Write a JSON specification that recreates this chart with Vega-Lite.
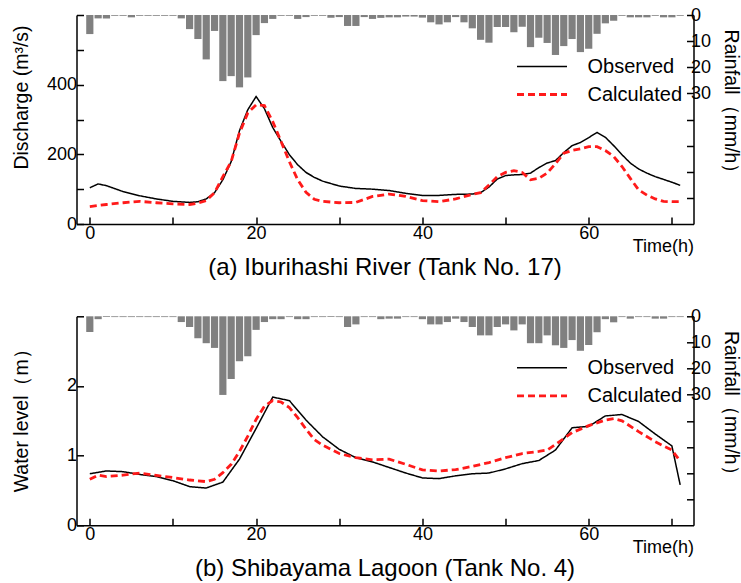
{
  "$schema": "https://vega.github.io/schema/vega-lite/v6.json",
  "padding": {"left": 10.5, "top": 6, "right": 2.5, "bottom": 0},
  "background": "white",
  "config": {
    "view": {"stroke": null},
    "font": "Liberation Sans",
    "axis": {
      "grid": false,
      "domainColor": "#000000",
      "domainWidth": 1.5,
      "tickColor": "#000000",
      "tickWidth": 1.5,
      "tickSize": -7,
      "labelColor": "#000000",
      "titleColor": "#000000",
      "labelFont": "Liberation Sans",
      "labelFontSize": 18,
      "titleFont": "Liberation Sans",
      "titleFontSize": 19.5,
      "titleFontWeight": "normal"
    },
    "legend": {"labelFont": "Liberation Sans", "labelFontSize": 20, "labelColor": "#000000"}
  },
  "datasets": {
    "rainA": [
      {"h":0,"rain":7.3},{"h":1,"rain":1.3},{"h":2,"rain":1.3},{"h":3,"rain":0.3},{"h":4,"rain":0.3},{"h":5,"rain":0.9},{"h":6,"rain":0.3},{"h":7,"rain":0.3},{"h":8,"rain":0.3},{"h":9,"rain":0.3},
      {"h":10,"rain":0.3},{"h":11,"rain":1.3},{"h":12,"rain":5.4},{"h":13,"rain":9.2},{"h":14,"rain":17},{"h":15,"rain":6.1},{"h":16,"rain":25.3},{"h":17,"rain":23.4},{"h":18,"rain":27.7},{"h":19,"rain":23.9},
      {"h":20,"rain":7.7},{"h":21,"rain":3.1},{"h":22,"rain":1.5},{"h":23,"rain":0.3},{"h":24,"rain":0.3},{"h":25,"rain":1.5},{"h":26,"rain":0.8},{"h":27,"rain":0.3},{"h":28,"rain":0.3},{"h":29,"rain":1.1},
      {"h":30,"rain":0.8},{"h":31,"rain":4.2},{"h":32,"rain":4.2},{"h":33,"rain":0.8},{"h":34,"rain":1.5},{"h":35,"rain":1.1},{"h":36,"rain":0.9},{"h":37,"rain":0.9},{"h":38,"rain":0.6},{"h":39,"rain":0.6},
      {"h":40,"rain":1.0},{"h":41,"rain":2.8},{"h":42,"rain":3.6},{"h":43,"rain":2.8},{"h":44,"rain":0.8},{"h":45,"rain":2.8},{"h":46,"rain":5.1},{"h":47,"rain":9.5},{"h":48,"rain":10.6},{"h":49,"rain":4.6},
      {"h":50,"rain":4.6},{"h":51,"rain":6.6},{"h":52,"rain":4.5},{"h":53,"rain":12.3},{"h":54,"rain":8.7},{"h":55,"rain":10.7},{"h":56,"rain":15.3},{"h":57,"rain":11.9},{"h":58,"rain":9.2},{"h":59,"rain":14.2},
      {"h":60,"rain":12.9},{"h":61,"rain":7.2},{"h":62,"rain":3.2},{"h":63,"rain":2.2},{"h":64,"rain":0.3},{"h":65,"rain":0.9},{"h":66,"rain":0.9},{"h":67,"rain":0.9},{"h":68,"rain":0.3},{"h":69,"rain":0.9},
      {"h":70,"rain":0.9},{"h":71,"rain":0.3}
    ],
    "rainB": [
      {"h":0,"rain":6.0},{"h":1,"rain":1.1},{"h":2,"rain":0.3},{"h":3,"rain":0.3},{"h":4,"rain":0.3},{"h":5,"rain":0.3},{"h":6,"rain":0.3},{"h":7,"rain":0.3},{"h":8,"rain":0.3},{"h":9,"rain":0.3},
      {"h":10,"rain":0.3},{"h":11,"rain":2.2},{"h":12,"rain":4.1},{"h":13,"rain":8.4},{"h":14,"rain":10.3},{"h":15,"rain":12.1},{"h":16,"rain":30.1},{"h":17,"rain":24.0},{"h":18,"rain":17.2},{"h":19,"rain":15.3},
      {"h":20,"rain":5.2},{"h":21,"rain":2.2},{"h":22,"rain":1.1},{"h":23,"rain":1.1},{"h":24,"rain":0.3},{"h":25,"rain":1.1},{"h":26,"rain":1.1},{"h":27,"rain":0.3},{"h":28,"rain":0.3},{"h":29,"rain":0.3},
      {"h":30,"rain":0.3},{"h":31,"rain":4.1},{"h":32,"rain":3.1},{"h":33,"rain":0.3},{"h":34,"rain":0.3},{"h":35,"rain":1.1},{"h":36,"rain":0.9},{"h":37,"rain":0.9},{"h":38,"rain":0.3},{"h":39,"rain":0.3},
      {"h":40,"rain":1.1},{"h":41,"rain":3.1},{"h":42,"rain":3.1},{"h":43,"rain":2.2},{"h":44,"rain":0.9},{"h":45,"rain":2.2},{"h":46,"rain":4.1},{"h":47,"rain":7.3},{"h":48,"rain":7.3},{"h":49,"rain":4.1},
      {"h":50,"rain":3.1},{"h":51,"rain":5.4},{"h":52,"rain":3.1},{"h":53,"rain":10.3},{"h":54,"rain":10.3},{"h":55,"rain":7.3},{"h":56,"rain":11.1},{"h":57,"rain":12.1},{"h":58,"rain":9.1},{"h":59,"rain":13.2},
      {"h":60,"rain":11.0},{"h":61,"rain":6.1},{"h":62,"rain":1.1},{"h":63,"rain":2.3},{"h":64,"rain":0.3},{"h":65,"rain":0.9},{"h":66,"rain":0.3},{"h":67,"rain":0.3},{"h":68,"rain":0.9},{"h":69,"rain":0.9},
      {"h":70,"rain":0.3},{"h":71,"rain":0.3}
    ],
    "flowA": [
      {"series":"Observed","h":0,"v":104},{"series":"Observed","h":1,"v":115},{"series":"Observed","h":2,"v":110},{"series":"Observed","h":4,"v":93},{"series":"Observed","h":6,"v":81},{"series":"Observed","h":8,"v":72},{"series":"Observed","h":10,"v":65},{"series":"Observed","h":12,"v":62},{"series":"Observed","h":13,"v":64},{"series":"Observed","h":14,"v":72},
      {"series":"Observed","h":15,"v":90},{"series":"Observed","h":16,"v":127},{"series":"Observed","h":17,"v":179},{"series":"Observed","h":18,"v":268},{"series":"Observed","h":19,"v":328},{"series":"Observed","h":20,"v":366},{"series":"Observed","h":21,"v":331},{"series":"Observed","h":22,"v":277},{"series":"Observed","h":23,"v":237},{"series":"Observed","h":24,"v":199},
      {"series":"Observed","h":25,"v":170},{"series":"Observed","h":26,"v":148},{"series":"Observed","h":27,"v":134},{"series":"Observed","h":28,"v":123},{"series":"Observed","h":30,"v":109},{"series":"Observed","h":32,"v":102},{"series":"Observed","h":34,"v":100},{"series":"Observed","h":36,"v":96},{"series":"Observed","h":38,"v":88},{"series":"Observed","h":40,"v":82},
      {"series":"Observed","h":42,"v":82},{"series":"Observed","h":44,"v":85},{"series":"Observed","h":46,"v":86},{"series":"Observed","h":47,"v":90},{"series":"Observed","h":48,"v":106},{"series":"Observed","h":49,"v":129},{"series":"Observed","h":50,"v":139},{"series":"Observed","h":51,"v":141},{"series":"Observed","h":52,"v":142},{"series":"Observed","h":53,"v":146},
      {"series":"Observed","h":54,"v":162},{"series":"Observed","h":55,"v":175},{"series":"Observed","h":56,"v":182},{"series":"Observed","h":57,"v":205},{"series":"Observed","h":58,"v":225},{"series":"Observed","h":59,"v":234},{"series":"Observed","h":60,"v":248},{"series":"Observed","h":61,"v":263},{"series":"Observed","h":62,"v":249},{"series":"Observed","h":63,"v":225},
      {"series":"Observed","h":64,"v":199},{"series":"Observed","h":65,"v":175},{"series":"Observed","h":66,"v":158},{"series":"Observed","h":67,"v":146},{"series":"Observed","h":68,"v":136},{"series":"Observed","h":69,"v":128},{"series":"Observed","h":70,"v":120},{"series":"Observed","h":71,"v":111},
      {"series":"Calculated","h":0,"v":50},{"series":"Calculated","h":2,"v":56},{"series":"Calculated","h":4,"v":61},{"series":"Calculated","h":6,"v":65},{"series":"Calculated","h":8,"v":61},{"series":"Calculated","h":10,"v":58},{"series":"Calculated","h":12,"v":56},{"series":"Calculated","h":13,"v":60},{"series":"Calculated","h":14,"v":67},{"series":"Calculated","h":15,"v":90},
      {"series":"Calculated","h":16,"v":136},{"series":"Calculated","h":17,"v":179},{"series":"Calculated","h":18,"v":261},{"series":"Calculated","h":19,"v":319},{"series":"Calculated","h":20,"v":342},{"series":"Calculated","h":21,"v":340},{"series":"Calculated","h":22,"v":294},{"series":"Calculated","h":23,"v":237},{"series":"Calculated","h":24,"v":179},{"series":"Calculated","h":25,"v":127},
      {"series":"Calculated","h":26,"v":91},{"series":"Calculated","h":27,"v":71},{"series":"Calculated","h":28,"v":65},{"series":"Calculated","h":30,"v":61},{"series":"Calculated","h":32,"v":62},{"series":"Calculated","h":34,"v":79},{"series":"Calculated","h":36,"v":86},{"series":"Calculated","h":38,"v":79},{"series":"Calculated","h":40,"v":67},{"series":"Calculated","h":42,"v":64},
      {"series":"Calculated","h":44,"v":72},{"series":"Calculated","h":46,"v":85},{"series":"Calculated","h":47,"v":90},{"series":"Calculated","h":48,"v":112},{"series":"Calculated","h":49,"v":136},{"series":"Calculated","h":50,"v":148},{"series":"Calculated","h":51,"v":153},{"series":"Calculated","h":52,"v":148},{"series":"Calculated","h":53,"v":127},{"series":"Calculated","h":54,"v":131},
      {"series":"Calculated","h":55,"v":146},{"series":"Calculated","h":56,"v":173},{"series":"Calculated","h":57,"v":203},{"series":"Calculated","h":58,"v":211},{"series":"Calculated","h":59,"v":216},{"series":"Calculated","h":60,"v":222},{"series":"Calculated","h":61,"v":222},{"series":"Calculated","h":62,"v":211},{"series":"Calculated","h":63,"v":194},{"series":"Calculated","h":64,"v":165},
      {"series":"Calculated","h":65,"v":131},{"series":"Calculated","h":66,"v":98},{"series":"Calculated","h":67,"v":83},{"series":"Calculated","h":68,"v":72},{"series":"Calculated","h":69,"v":65},{"series":"Calculated","h":70,"v":64},{"series":"Calculated","h":71,"v":64}
    ],
    "levelB": [
      {"series":"Observed","h":0,"v":0.74},{"series":"Observed","h":2,"v":0.78},{"series":"Observed","h":4,"v":0.77},{"series":"Observed","h":6,"v":0.73},{"series":"Observed","h":8,"v":0.70},{"series":"Observed","h":10,"v":0.64},{"series":"Observed","h":12,"v":0.555},{"series":"Observed","h":14,"v":0.535},{"series":"Observed","h":16,"v":0.62},{"series":"Observed","h":18,"v":0.95},
      {"series":"Observed","h":20,"v":1.39},{"series":"Observed","h":22,"v":1.84},{"series":"Observed","h":24,"v":1.79},{"series":"Observed","h":26,"v":1.51},{"series":"Observed","h":28,"v":1.27},{"series":"Observed","h":30,"v":1.09},{"series":"Observed","h":32,"v":0.97},{"series":"Observed","h":34,"v":0.91},{"series":"Observed","h":36,"v":0.83},{"series":"Observed","h":38,"v":0.75},
      {"series":"Observed","h":40,"v":0.68},{"series":"Observed","h":42,"v":0.67},{"series":"Observed","h":44,"v":0.71},{"series":"Observed","h":46,"v":0.74},{"series":"Observed","h":48,"v":0.75},{"series":"Observed","h":50,"v":0.81},{"series":"Observed","h":52,"v":0.885},{"series":"Observed","h":54,"v":0.93},{"series":"Observed","h":56,"v":1.08},{"series":"Observed","h":58,"v":1.40},
      {"series":"Observed","h":60,"v":1.42},{"series":"Observed","h":62,"v":1.57},{"series":"Observed","h":64,"v":1.59},{"series":"Observed","h":66,"v":1.49},{"series":"Observed","h":68,"v":1.31},{"series":"Observed","h":70,"v":1.14},{"series":"Observed","h":71,"v":0.58},
      {"series":"Calculated","h":0,"v":0.66},{"series":"Calculated","h":1,"v":0.72},{"series":"Calculated","h":2,"v":0.70},{"series":"Calculated","h":4,"v":0.72},{"series":"Calculated","h":6,"v":0.75},{"series":"Calculated","h":8,"v":0.715},{"series":"Calculated","h":10,"v":0.685},{"series":"Calculated","h":12,"v":0.65},{"series":"Calculated","h":14,"v":0.627},{"series":"Calculated","h":15,"v":0.66},
      {"series":"Calculated","h":16,"v":0.756},{"series":"Calculated","h":17,"v":0.875},{"series":"Calculated","h":18,"v":1.06},{"series":"Calculated","h":19,"v":1.28},{"series":"Calculated","h":20,"v":1.52},{"series":"Calculated","h":21,"v":1.71},{"series":"Calculated","h":22,"v":1.79},{"series":"Calculated","h":23,"v":1.77},{"series":"Calculated","h":24,"v":1.69},{"series":"Calculated","h":25,"v":1.545},
      {"series":"Calculated","h":26,"v":1.38},{"series":"Calculated","h":27,"v":1.23},{"series":"Calculated","h":28,"v":1.15},{"series":"Calculated","h":30,"v":1.03},{"series":"Calculated","h":32,"v":0.97},{"series":"Calculated","h":34,"v":0.94},{"series":"Calculated","h":36,"v":0.95},{"series":"Calculated","h":38,"v":0.875},{"series":"Calculated","h":40,"v":0.795},{"series":"Calculated","h":42,"v":0.78},
      {"series":"Calculated","h":44,"v":0.80},{"series":"Calculated","h":46,"v":0.845},{"series":"Calculated","h":48,"v":0.90},{"series":"Calculated","h":50,"v":0.97},{"series":"Calculated","h":52,"v":1.03},{"series":"Calculated","h":54,"v":1.06},{"series":"Calculated","h":55,"v":1.08},{"series":"Calculated","h":56,"v":1.16},{"series":"Calculated","h":58,"v":1.33},{"series":"Calculated","h":60,"v":1.43},
      {"series":"Calculated","h":62,"v":1.51},{"series":"Calculated","h":63,"v":1.53},{"series":"Calculated","h":64,"v":1.50},{"series":"Calculated","h":66,"v":1.345},{"series":"Calculated","h":68,"v":1.20},{"series":"Calculated","h":70,"v":1.08},{"series":"Calculated","h":71,"v":0.92}
    ]
  },
  "spacing": 27.3,
  "resolve": {
    "scale": {"color": "independent", "strokeDash": "independent", "strokeWidth": "independent"},
    "legend": {"color": "independent", "strokeDash": "independent", "strokeWidth": "independent"}
  },
  "vconcat": [
    {
      "width": 617,
      "height": 209,
      "title": {"text": "(a) Iburihashi River (Tank No. 17)", "orient": "bottom", "anchor": "middle", "font": "Liberation Sans", "fontSize": 24, "fontWeight": "normal", "color": "#000000", "offset": 0.5},
      "resolve": {"scale": {"y": "independent"}},
      "layer": [
        {
          "data": {"name": "rainA"},
          "mark": {"type": "bar", "color": "#808080", "width": 7.2},
          "encoding": {
            "x": {"field": "h", "type": "quantitative", "scale": {"domain": [-1, 72], "nice": false},
                  "axis": {"values": [0,10,20,30,40,50,60,70], "labelExpr": "datum.value % 20 == 0 ? datum.label : ''", "labelPadding": 7.5, "title": "Time(h)", "titleFontSize": 18, "titleX": 617, "titleY": 22.5, "titleAlign": "right", "titleBaseline": "middle", "titleAngle": 0}},
            "y": {"field": "rain", "type": "quantitative", "scale": {"domain": [0, 80], "reverse": true, "nice": false},
                  "axis": {"orient": "right", "values": [0,10,20,30,40,50,60,70], "labelExpr": "datum.value <= 30 ? datum.label : ''", "labelPadding": 4, "title": "Rainfall（mm/h）", "titleX": 36.5, "titleY": 91, "titleAngle": 90, "titleAlign": "center", "titleBaseline": "middle"}}
          }
        },
        {
          "data": {"name": "flowA"},
          "mark": {"type": "line"},
          "encoding": {
            "x": {"field": "h", "type": "quantitative", "scale": {"domain": [-1, 72], "nice": false},
                  "axis": {"values": [0,10,20,30,40,50,60,70], "labelExpr": "datum.value % 20 == 0 ? datum.label : ''", "labelPadding": 7.5, "title": "Time(h)", "titleFontSize": 18, "titleX": 617, "titleY": 22.5, "titleAlign": "right", "titleBaseline": "middle", "titleAngle": 0}},
            "y": {"field": "v", "type": "quantitative", "scale": {"domain": [0, 600], "nice": false},
                  "axis": {"values": [0,100,200,300,400,500,600], "labelExpr": "datum.value % 200 == 0 && datum.value < 600 ? datum.label : ''", "labelPadding": 7, "title": "Discharge (m³/s)", "titleX": -55.5, "titleY": 82, "titleAngle": -90, "titleAlign": "center", "titleBaseline": "middle"}},
            "color": {"field": "series", "type": "nominal", "scale": {"domain": ["Observed", "Calculated"], "range": ["#000000", "#ff1a1a"]},
                      "legend": {"title": null, "orient": "none", "legendX": 439, "legendY": 37.5, "symbolType": "stroke", "symbolSize": 2500, "clipHeight": 28, "rowPadding": 0, "labelOffset": 19, "padding": 0}},
            "strokeDash": {"field": "series", "type": "nominal", "scale": {"domain": ["Observed", "Calculated"], "range": [[1, 0], [7, 4]]},
                      "legend": {"title": null, "orient": "none", "legendX": 439, "legendY": 37.5, "symbolType": "stroke", "symbolSize": 2500, "clipHeight": 28, "rowPadding": 0, "labelOffset": 19, "padding": 0}},
            "strokeWidth": {"field": "series", "type": "ordinal", "scale": {"domain": ["Observed", "Calculated"], "range": [1.5, 2.8]},
                      "legend": {"title": null, "orient": "none", "legendX": 439, "legendY": 37.5, "symbolType": "stroke", "symbolSize": 2500, "clipHeight": 28, "rowPadding": 0, "labelOffset": 19, "padding": 0}}
          }
        }
      ]
    },
    {
      "width": 617,
      "height": 209,
      "title": {"text": "(b) Shibayama Lagoon (Tank No. 4)", "orient": "bottom", "anchor": "middle", "font": "Liberation Sans", "fontSize": 24, "fontWeight": "normal", "color": "#000000", "offset": 0.5},
      "resolve": {"scale": {"y": "independent"}},
      "layer": [
        {
          "data": {"name": "rainB"},
          "mark": {"type": "bar", "color": "#808080", "width": 7.2},
          "encoding": {
            "x": {"field": "h", "type": "quantitative", "scale": {"domain": [-1, 72], "nice": false},
                  "axis": {"values": [0,10,20,30,40,50,60,70], "labelExpr": "datum.value % 20 == 0 ? datum.label : ''", "labelPadding": 7.5, "title": "Time(h)", "titleFontSize": 18, "titleX": 617, "titleY": 22.5, "titleAlign": "right", "titleBaseline": "middle", "titleAngle": 0}},
            "y": {"field": "rain", "type": "quantitative", "scale": {"domain": [0, 80], "reverse": true, "nice": false},
                  "axis": {"orient": "right", "values": [0,10,20,30,40,50,60,70], "labelExpr": "datum.value <= 30 ? datum.label : ''", "labelPadding": 4, "title": "Rainfall（mm/h）", "titleX": 36.5, "titleY": 91, "titleAngle": 90, "titleAlign": "center", "titleBaseline": "middle"}}
          }
        },
        {
          "data": {"name": "levelB"},
          "mark": {"type": "line"},
          "encoding": {
            "x": {"field": "h", "type": "quantitative", "scale": {"domain": [-1, 72], "nice": false},
                  "axis": {"values": [0,10,20,30,40,50,60,70], "labelExpr": "datum.value % 20 == 0 ? datum.label : ''", "labelPadding": 7.5, "title": "Time(h)", "titleFontSize": 18, "titleX": 617, "titleY": 22.5, "titleAlign": "right", "titleBaseline": "middle", "titleAngle": 0}},
            "y": {"field": "v", "type": "quantitative", "scale": {"domain": [0, 3], "nice": false},
                  "axis": {"values": [0,0.5,1,1.5,2,2.5,3], "format": "d", "labelExpr": "datum.value % 1 == 0 && datum.value < 3 ? datum.label : ''", "labelPadding": 7, "title": "Water level（m）", "titleX": -55.5, "titleY": 99, "titleAngle": -90, "titleAlign": "center", "titleBaseline": "middle"}},
            "color": {"field": "series", "type": "nominal", "scale": {"domain": ["Observed", "Calculated"], "range": ["#000000", "#ff1a1a"]},
                      "legend": {"title": null, "orient": "none", "legendX": 439, "legendY": 37.5, "symbolType": "stroke", "symbolSize": 2500, "clipHeight": 28, "rowPadding": 0, "labelOffset": 19, "padding": 0}},
            "strokeDash": {"field": "series", "type": "nominal", "scale": {"domain": ["Observed", "Calculated"], "range": [[1, 0], [7, 4]]},
                      "legend": {"title": null, "orient": "none", "legendX": 439, "legendY": 37.5, "symbolType": "stroke", "symbolSize": 2500, "clipHeight": 28, "rowPadding": 0, "labelOffset": 19, "padding": 0}},
            "strokeWidth": {"field": "series", "type": "ordinal", "scale": {"domain": ["Observed", "Calculated"], "range": [1.5, 2.8]},
                      "legend": {"title": null, "orient": "none", "legendX": 439, "legendY": 37.5, "symbolType": "stroke", "symbolSize": 2500, "clipHeight": 28, "rowPadding": 0, "labelOffset": 19, "padding": 0}}
          }
        }
      ]
    }
  ]
}
